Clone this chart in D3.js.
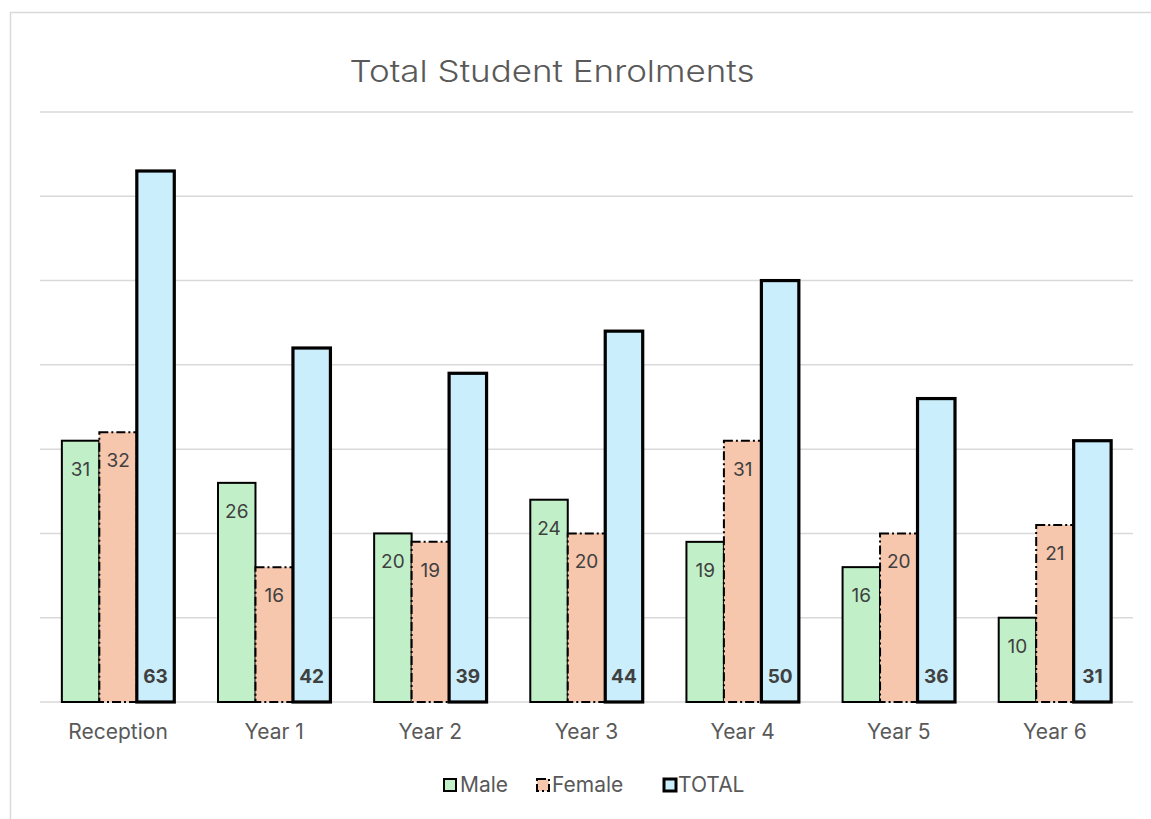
<!DOCTYPE html>
<html><head><meta charset="utf-8">
<script src="https://cdn.jsdelivr.net/npm/d3@7"></script>
<style>
html,body{margin:0;padding:0;background:#fff;}
svg{display:block;}
</style></head>
<body>
<svg id="chart" width="1151" height="819"></svg>
<script>
const categories = ["Reception","Year 1","Year 2","Year 3","Year 4","Year 5","Year 6"];
const seriesNames = ["Male","Female","TOTAL"];
const maleValues = [31,26,20,24,19,16,10];
const femaleValues = [32,16,19,20,31,20,21];
const totalValues = [63,42,39,44,50,36,31];
const yTicks = [0,10,20,30,40,50,60,70];

const fills = {Male:"#C1F0C8", Female:"#F6C6AD", TOTAL:"#CAEEFB"};
const strokeW = {Male:2, Female:2, TOTAL:3.2};
const dash = {Male:null, Female:"9,3,2,3", TOTAL:null};
const valuesBy = {Male:maleValues, Female:femaleValues, TOTAL:totalValues};

const svg = d3.select("#chart");
const font = "Inter, 'Open Sans', 'Noto Sans', sans-serif";

// chart frame
svg.append("rect").attr("x",10.5).attr("y",12.5).attr("width",1200).attr("height",900)
  .attr("fill","#fff").attr("stroke","#d9d9d9").attr("stroke-width",1.5);

const pLeft=40, pRight=1133, pTop=112, pBottom=702;
const x = d3.scaleBand().domain(categories).range([pLeft,pRight]).paddingInner(0.28).paddingOuter(0.14);
const xs = d3.scaleBand().domain(seriesNames).range([0,x.bandwidth()]).padding(0);
const y = d3.scaleLinear().domain([0,70]).range([pBottom,pTop]);

// gridlines
svg.append("g").selectAll("line").data(yTicks).join("line")
  .attr("x1",pLeft).attr("x2",pRight)
  .attr("y1",d=>y(d)).attr("y2",d=>y(d))
  .attr("stroke","#d9d9d9").attr("stroke-width",1.5);

// title
svg.append("text").attr("x",552).attr("y",82).attr("text-anchor","middle")
  .attr("font-family",font).attr("font-size",30).attr("font-weight",300).attr("fill","#595959")
  .attr("textLength",405).attr("lengthAdjust","spacingAndGlyphs")
  .text("Total Student Enrolments");

// bars
const data = [];
categories.forEach((c,i)=>seriesNames.forEach(s=>data.push({c, s, v:valuesBy[s][i]})));

const gBars = svg.append("g");
gBars.selectAll("rect").data(data).join("rect")
  .attr("x",d=>x(d.c)+xs(d.s))
  .attr("y",d=>y(d.v))
  .attr("width",xs.bandwidth())
  .attr("height",d=>y(0)-y(d.v))
  .attr("fill",d=>fills[d.s])
  .attr("stroke","#000")
  .attr("stroke-width",d=>strokeW[d.s])
  .attr("stroke-dasharray",d=>dash[d.s]);

// labels
svg.append("g").selectAll("text").data(data).join("text")
  .attr("x",d=>x(d.c)+xs(d.s)+xs.bandwidth()/2)
  .attr("y",d=>d.s==="TOTAL" ? y(0)-19 : y(d.v)+35)
  .attr("text-anchor","middle")
  .attr("font-family",font)
  .attr("font-size",19)
  .attr("font-weight",d=>d.s==="TOTAL"?"bold":"normal")
  .attr("fill","#404040")
  .text(d=>d.v);

// x axis labels
const xAxis = d3.axisBottom(x).tickSize(0).tickPadding(22);
const gx = svg.append("g").attr("transform",`translate(0,${pBottom})`).call(xAxis);
gx.select(".domain").remove();
gx.selectAll("text").attr("font-family",font).attr("font-size",21).attr("fill","#595959");

// legend
const legendItems = [
  {s:"Male", x:443, tx:460},
  {s:"Female", x:536, tx:552},
  {s:"TOTAL", x:663, tx:678}
];
const lg = svg.append("g");
legendItems.forEach(it=>{
  lg.append("rect").attr("x",it.x+1).attr("y",779).attr("width",12).attr("height",12)
    .attr("fill",fills[it.s]).attr("stroke","#000")
    .attr("stroke-width",it.s==="TOTAL"?3:2)
    .attr("stroke-dasharray",it.s==="Female"?"9,3,2,3":null);
  lg.append("text").attr("x",it.tx).attr("y",792).attr("font-family",font)
    .attr("font-size",21).attr("fill","#595959").text(it.s);
});
</script>
</body></html>
